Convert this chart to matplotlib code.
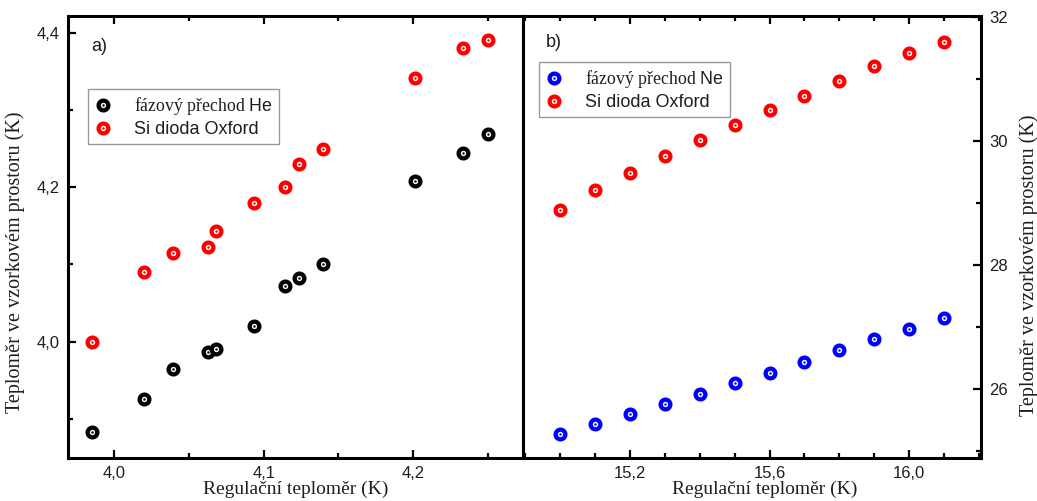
import matplotlib
matplotlib.use("Agg")
import matplotlib.pyplot as plt
from matplotlib.ticker import MultipleLocator, FuncFormatter

plt.rcParams['font.family'] = ['Liberation Sans', 'DejaVu Sans']
plt.rcParams['mathtext.fontset'] = 'custom'
plt.rcParams['mathtext.sf'] = 'Liberation Sans'
plt.rcParams['mathtext.rm'] = 'Liberation Serif'

# --- panel a): helium ---
reg_he = [3.985, 4.0196, 4.039, 4.0624, 4.068, 4.0936, 4.1144, 4.1237, 4.140, 4.2013, 4.2332, 4.2504]
phase_he = [3.883, 3.926, 3.965, 3.987, 3.9905, 4.0204, 4.0723, 4.0823, 4.1005, 4.2078, 4.245, 4.2684]
diode_he = [4.000, 4.090, 4.115, 4.122, 4.143, 4.180, 4.200, 4.2304, 4.249, 4.341, 4.381, 4.391]

# --- panel b): neon ---
reg_ne = [15.0, 15.1, 15.2, 15.3, 15.4, 15.5, 15.6, 15.7, 15.8, 15.9, 16.0, 16.1]
phase_ne = [25.274, 25.44, 25.597, 25.768, 25.929, 26.106, 26.263, 26.445, 26.629, 26.811, 26.977, 27.15]
diode_ne = [28.898, 29.221, 29.489, 29.763, 30.016, 30.269, 30.505, 30.737, 30.979, 31.21, 31.424, 31.60]

xlabel = "Regulační teploměr (K)"
ylabel = "Teploměr ve vzorkovém prostoru (K)"
label_phase_he = r"fázový přechod $\mathsf{He}$"
label_phase_ne = r"fázový přechod $\mathsf{Ne}$"
label_diode = "Si dioda Oxford"

TEXT = "#1e1e1e"
SERIF = ['Liberation Serif', 'DejaVu Serif']

fig = plt.figure(figsize=(10.37, 5.01), dpi=100)
axa = fig.add_axes([68 / 1037, 43 / 501, 455 / 1037, 442 / 501])
axb = fig.add_axes([523 / 1037, 43 / 501, 458 / 1037, 442 / 501])


def ring(ax, x, y, color):
    outer, = ax.plot(x, y, linestyle='none', marker='o', markersize=7.0,
                     markerfacecolor='white', markeredgecolor=color,
                     markeredgewidth=3.1, zorder=3)
    dot, = ax.plot(x, y, linestyle='none', marker='o', markersize=1.4,
                   markerfacecolor=color, markeredgecolor=color,
                   markeredgewidth=0.3, zorder=4)
    return (outer, dot)


def comma(fmt):
    return FuncFormatter(lambda v, p: (fmt % v).replace('.', ','))


def style(ax):
    for s in ax.spines.values():
        s.set_linewidth(2.2)
        s.set_color('black')
    ax.tick_params(which='both', direction='in', width=1.6, colors='black',
                   labelcolor=TEXT, labelsize=12, pad=6)
    ax.tick_params(which='major', length=6)
    ax.tick_params(which='minor', length=3.5)


# panel a
h1 = ring(axa, reg_he, phase_he, 'black')
h2 = ring(axa, reg_he, diode_he, '#ff0000')
axa.set_xlim(3.969, 4.2736)
axa.set_ylim(3.849, 4.422)
axa.xaxis.set_major_locator(MultipleLocator(0.1))
axa.xaxis.set_minor_locator(MultipleLocator(0.05))
axa.yaxis.set_major_locator(MultipleLocator(0.2))
axa.yaxis.set_minor_locator(MultipleLocator(0.1))
axa.xaxis.set_major_formatter(comma('%.1f'))
axa.yaxis.set_major_formatter(comma('%.1f'))
style(axa)
axa.tick_params(axis='x', which='both', top=True)
axa.tick_params(axis='y', which='both', left=True, right=False)
axa.set_xlabel(xlabel, family=SERIF, fontsize=14, color=TEXT)
axa.set_ylabel(ylabel, family=SERIF, fontsize=14.5, color=TEXT)
axa.xaxis.set_label_coords(0.501, -0.052)
axa.yaxis.set_label_coords(-0.095, 0.443)
axa.text(0.05, 0.93, "a)", transform=axa.transAxes, fontsize=13,
         color=TEXT, va='center', ha='left')
lega = axa.legend([h1, h2], [label_phase_he, label_diode], loc='upper left',
                  bbox_to_anchor=(0.044, 0.835), borderaxespad=0,
                  frameon=True, fancybox=False, edgecolor='#808080',
                  fontsize=13, handlelength=1.0, handletextpad=1.2,
                  borderpad=0.35, labelspacing=0.2)
lega.get_frame().set_linewidth(1.0)
ta, tb = lega.get_texts()
ta.set_family(SERIF)
ta.set_fontsize(12.8)
for t in lega.get_texts():
    t.set_color(TEXT)

# panel b
g1 = ring(axb, reg_ne, phase_ne, '#0000ff')
g2 = ring(axb, reg_ne, diode_ne, '#ff0000')
axb.set_xlim(14.893, 16.206)
axb.set_ylim(24.89, 32.02)
axb.xaxis.set_major_locator(MultipleLocator(0.4))
axb.xaxis.set_minor_locator(MultipleLocator(0.1))
axb.yaxis.set_major_locator(MultipleLocator(2))
axb.yaxis.set_minor_locator(MultipleLocator(1))
axb.xaxis.set_major_formatter(comma('%.1f'))
axb.yaxis.set_major_formatter(FuncFormatter(lambda v, p: '%d' % round(v)))
style(axb)
axb.tick_params(axis='x', which='both', top=True)
axb.yaxis.tick_right()
axb.tick_params(axis='y', which='both', left=False, right=True)
axb.yaxis.set_label_position('right')
axb.set_xlabel(xlabel, family=SERIF, fontsize=14, color=TEXT)
axb.set_ylabel(ylabel, family=SERIF, fontsize=14.5, color=TEXT)
axb.xaxis.set_label_coords(0.528, -0.052)
axb.yaxis.set_label_coords(1.083, 0.437)
axb.text(0.05, 0.939, "b)", transform=axb.transAxes, fontsize=13,
         color=TEXT, va='center', ha='left')
legb = axb.legend([g1, g2], [label_phase_ne, label_diode], loc='upper left',
                  bbox_to_anchor=(0.035, 0.896), borderaxespad=0,
                  frameon=True, fancybox=False, edgecolor='#808080',
                  fontsize=13, handlelength=1.0, handletextpad=1.2,
                  borderpad=0.35, labelspacing=0.2)
legb.get_frame().set_linewidth(1.0)
tc, td = legb.get_texts()
tc.set_family(SERIF)
tc.set_fontsize(12.8)
for t in legb.get_texts():
    t.set_color(TEXT)

fig.savefig("out.png", dpi=100)
